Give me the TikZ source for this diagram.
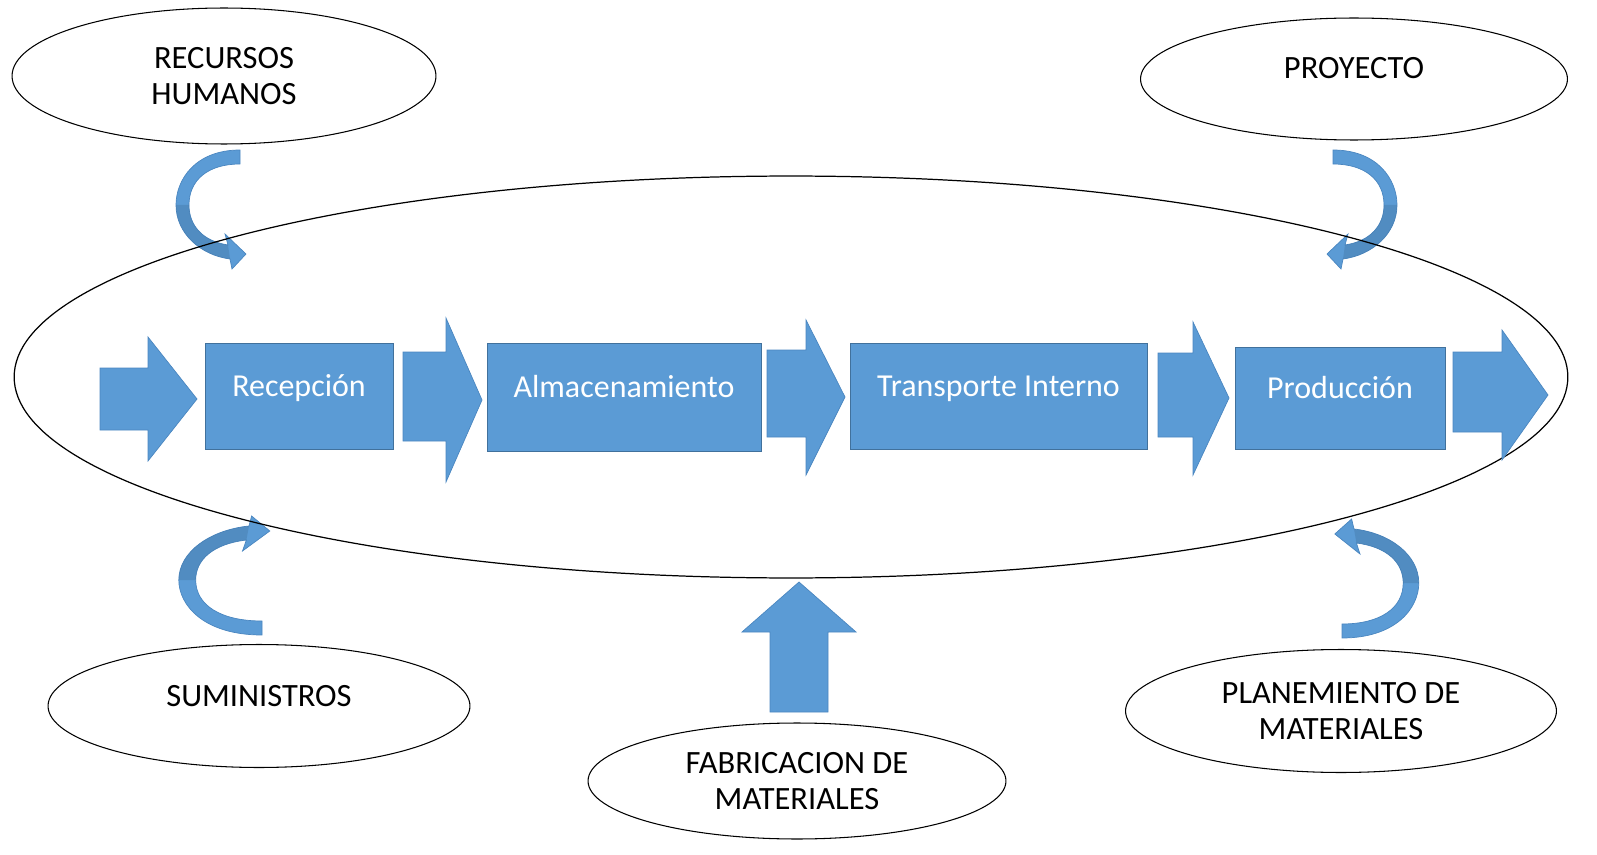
\documentclass[tikz,border=0pt]{standalone}
\usepackage{fontspec}
\setmainfont{Carlito}
\usepackage{tikz}
\usetikzlibrary{shapes.geometric}
\definecolor{c0}{HTML}{5B9BD5}
\definecolor{c1}{HTML}{41719C}
\definecolor{c2}{HTML}{4A86C0}

\begin{document}
\begin{tikzpicture}[x=0.02cm,y=-0.02cm,
	outer/.style={draw=black, line width=0.6pt, ellipse, inner sep=0pt, align=center,
		font=\fontsize{18.5}{20.5}\selectfont},
	stepbox/.style={draw=c1, line width=0.5pt, fill=c0, text=white, inner sep=0pt,
		text height=12pt, text depth=12pt, font=\fontsize{18.2}{21}\selectfont},
	arrowfill/.style={fill=c0, draw=c2, line width=0.4pt}
]

\useasboundingbox (0,0) rectangle (1597,855);

\newcommand{\drawBlockArrow}[8]%
{   \draw[arrowfill] (#1,#4) -- (#2,#4) -- (#2,#6) -- (#3,#8) -- (#2,#7) -- (#2,#5) -- (#1,#5) -- cycle;
}

\newcommand{\drawCurvedArrow}%
{
	\draw[arrowfill] (0,-55) .. controls (-45,-55) and (-64,-25) .. (-64,0)% outer edge
		.. controls (-64,28) and (-40,50) .. (-10,54)
		-- (-8,64) -- (6,49) -- (-15,29) -- (-12,40)% head
		.. controls (-38,36) and (-51,20) .. (-51,0)% inner edge
		.. controls (-51,-25) and (-32,-41) .. (0,-41) -- cycle;
	\fill[c1, opacity=0.35] (-64,0) .. controls (-64,28) and (-40,50) .. (-10,54)
		-- (-12,40) .. controls (-38,36) and (-51,20) .. (-51,0) -- cycle;% shade
}

% curved arrows
\begin{scope}[shift={(240,205)}]
\drawCurvedArrow
\end{scope}
\begin{scope}[shift={(1333,205)}, xscale=-1]
\drawCurvedArrow
\end{scope}
\begin{scope}[shift={(262,580)}, xscale=1.3, yscale=-1]
\drawCurvedArrow
\end{scope}
\begin{scope}[shift={(1342,583)}, xscale=-1.2, yscale=-1]
\drawCurvedArrow
\end{scope}

% main process
\node[draw=black, line width=0.7pt, ellipse, minimum width=31.08cm, minimum height=8.04cm] (proceso) at (791,377) {};

\node[outer, minimum width=8.48cm, minimum height=2.72cm] (recursos) at (224,76) {RECURSOS\\HUMANOS};
\node[outer, minimum width=8.54cm, minimum height=2.44cm, text height=11pt, text depth=11pt] (proyecto) at (1354,79) {PROYECTO};
\node[outer, minimum width=8.44cm, minimum height=2.46cm, text height=11pt, text depth=11pt] (suministros) at (259,706) {SUMINISTROS};
\node[outer, minimum width=8.36cm, minimum height=2.32cm] (fabricacion) at (797,781) {FABRICACION DE\\MATERIALES};
\node[outer, minimum width=8.62cm, minimum height=2.46cm] (planemiento) at (1341,711) {PLANEMIENTO DE\\MATERIALES};

\node[stepbox, minimum width=3.76cm, minimum height=2.12cm] (recepcion) at (299,396) {Recepción};
\node[stepbox, minimum width=5.48cm, minimum height=2.16cm] (almacen) at (624,397) {Almacenamiento};
\node[stepbox, minimum width=5.94cm, minimum height=2.12cm] (transporte) at (998.5,396) {Transporte Interno};
\node[stepbox, minimum width=4.2cm, minimum height=2.04cm] (produccion) at (1340,398) {Producción};

% block arrows
\drawBlockArrow{100}{148}{197}{368}{430}{337}{461}{399}
\drawBlockArrow{403}{446}{482}{352}{441}{318}{482}{400}
\drawBlockArrow{767}{806}{845}{350}{437}{320}{475}{397}
\drawBlockArrow{1158}{1193}{1229}{353}{437}{322}{475}{398}
\drawBlockArrow{1453}{1502}{1548}{352}{432}{330}{460}{395}

\draw[arrowfill] (770,712) -- (770,632) -- (742,632) -- (799,582) -- (856,632) -- (828,632) -- (828,712) -- cycle;% up arrow

\end{tikzpicture}
\end{document}
